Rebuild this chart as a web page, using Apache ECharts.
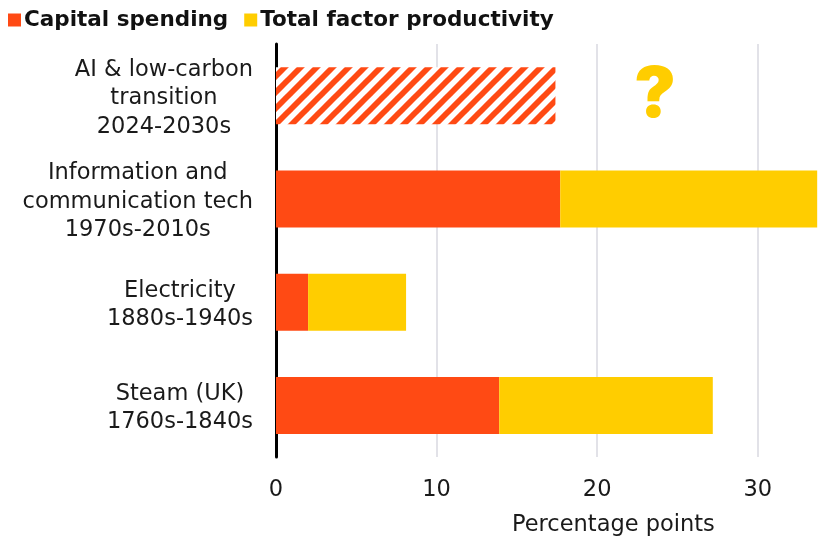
<!DOCTYPE html>
<html>
<head>
<meta charset="utf-8">
<script src="https://cdn.jsdelivr.net/npm/echarts@6/dist/echarts.min.js"></script>
<style>
  html, body { margin: 0; padding: 0; background: #fff; }
  #chart { width: 819px; height: 536px; }
</style>
</head>
<body>
<div id="chart"></div>
<script>
// Technology waves, top to bottom
const categories = [
  'AI & low-carbon\ntransition\n2024-2030s',
  'Information and\ncommunication tech\n1970s-2010s',
  'Electricity\n1880s-1940s',
  'Steam (UK)\n1760s-1840s'
];
// Contribution in percentage points
const capitalSpending = [17.4, 17.7, 2.0, 13.9];
const totalFactorProductivity = [null, 16.0, 6.1, 13.3];
// Where the open question sits for the unknown productivity share
const unknownMarkerX = 23.6;
const xTicks = [0, 10, 20, 30];

const RED = '#FF4A14';
const YELLOW = '#FFCD00';
const FONT = 'DejaVu Sans';

// Diagonal hatching for the projected bar
function hatchPattern() {
  const s = 16;
  const c = document.createElement('canvas');
  c.width = s; c.height = s;
  const g = c.getContext('2d');
  g.fillStyle = '#ffffff';
  g.fillRect(0, 0, s, s);
  g.strokeStyle = RED;
  g.lineWidth = 5.8;
  g.lineCap = 'square';
  for (let k = -1; k <= 1; k++) {
    g.beginPath();
    g.moveTo(k * s - s, 2 * s);
    g.lineTo(k * s + 2 * s, -s);
    g.stroke();
  }
  return c;
}

const capitalData = capitalSpending.map((v, i) => i === 0
  ? { value: v, itemStyle: { color: { image: hatchPattern(), repeat: 'repeat' } } }
  : v);

const chart = echarts.init(document.getElementById('chart'), null, { renderer: 'canvas' });
chart.setOption({
  animation: false,
  textStyle: { fontFamily: FONT },
  legend: {
    left: 3, top: 4,
    icon: 'rect',
    itemWidth: 13, itemHeight: 13,
    itemGap: 16,
    textStyle: { fontFamily: FONT, fontWeight: 'bold', fontSize: 21.5, color: '#111', padding: [0, 0, 0, -2] },
    data: ['Capital spending', 'Total factor productivity']
  },
  title: {
    text: 'Percentage points',
    left: 507, top: 509,
    textStyle: { fontFamily: FONT, fontWeight: 'normal', fontSize: 22.5, color: '#1a1a1a' }
  },
  grid: { left: 276, top: 44, width: 546, height: 413, containLabel: false, outerBoundsMode: 'none' },
  xAxis: {
    type: 'value',
    min: 0, max: 34, interval: 10,
    axisLine: { show: false },
    axisTick: { show: false },
    splitLine: { lineStyle: { color: '#d9d9e1', width: 1.5 } },
    axisLabel: {
      margin: 22,
      fontSize: 22.5, color: '#1a1a1a', fontFamily: FONT,
      formatter: v => (xTicks.indexOf(v) >= 0 ? String(v) : '')
    }
  },
  yAxis: {
    type: 'category',
    inverse: true,
    data: categories,
    axisLine: { show: true, onZero: false, lineStyle: { color: '#000', width: 3 } },
    axisTick: { show: false },
    axisLabel: {
      align: 'right',
      margin: 23,
      padding: [6, 0, 0, 0],
      formatter: v => v.split('\n').map(l => '{a|' + l + '}').join('\n'),
      rich: { a: { align: 'center', fontSize: 22.5, lineHeight: 28.5, color: '#1a1a1a', fontFamily: FONT } }
    }
  },
  series: [
    {
      name: 'Capital spending',
      type: 'bar',
      stack: 'total',
      barWidth: 57,
      itemStyle: { color: RED },
      data: capitalData
    },
    {
      name: 'Total factor productivity',
      type: 'bar',
      stack: 'total',
      barWidth: 57,
      itemStyle: { color: YELLOW },
      data: totalFactorProductivity,
      markPoint: {
        symbol: 'circle', symbolSize: 0,
        label: {
          show: true, formatter: '?', position: 'inside',
          fontSize: 70, fontWeight: 900, color: YELLOW, fontFamily: 'Inter'
        },
        data: [{ coord: [unknownMarkerX, categories[0]] }]
      }
    }
  ]
});
</script>
</body>
</html>
